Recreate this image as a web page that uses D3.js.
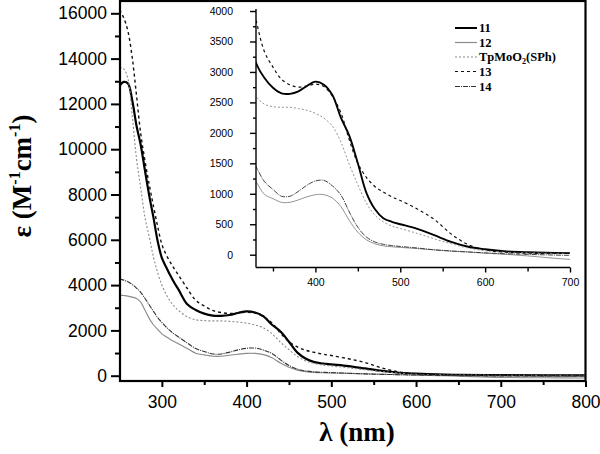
<!DOCTYPE html>
<html><head><meta charset="utf-8">
<script src="https://cdn.jsdelivr.net/npm/d3@7"></script>
<style>body{margin:0;background:#fff}svg{display:block}</style>
</head><body>
<svg id="chart" width="600" height="454"></svg>
<script>
// Wavelength grid (nm)
const wl = [250,255,260,265,270,275,280,285,290,295,300,305,310,315,320,330,340,350,360,370,380,390,400,410,420,430,440,450,460,470,480,490,500,520,540,560,580,600,625,650,700,750,800];
// Series values (M^-1 cm^-1)
const s11 = [12800,12970,12900,12160,11050,10200,9070,7970,7000,5950,5200,4800,4420,4080,3780,3150,2900,2740,2650,2640,2680,2770,2840,2790,2620,2250,1950,1500,1020,750,600,540,500,425,320,210,130,90,55,40,25,15,10];
const s12 = [3560,3540,3515,3470,3410,3250,2900,2530,2250,2050,1850,1720,1600,1500,1400,1200,990,920,860,860,900,950,985,985,930,790,560,370,245,180,145,130,120,100,80,60,45,25,5,-20,-76,-90,-100];
const sTp = [13600,13550,13100,11500,9600,8300,7000,6150,5250,4550,4000,3600,3280,3050,2870,2600,2470,2430,2420,2420,2400,2370,2320,2240,2110,1850,1480,1150,850,650,540,470,430,350,260,180,110,65,40,30,20,10,5];
const s13 = [16150,15800,15200,14050,12400,10700,9500,8450,7500,6600,5800,5350,5000,4700,4420,3850,3330,3080,2880,2790,2750,2770,2800,2760,2600,2330,1880,1500,1270,1120,1030,950,890,750,580,340,165,80,40,25,20,15,10];
const s14 = [4270,4220,4150,4030,3870,3680,3420,3130,2850,2570,2350,2150,1980,1830,1700,1445,1200,1070,960,960,1040,1140,1210,1220,1130,980,700,450,290,210,170,150,135,110,80,60,45,30,15,5,-10,-10,-5];
const seriesNames = ["11","12","TpMoO2(SPh)","13","14"];
const mainXTicks = [300,400,500,600,700,800];
const mainYTicks = [0,2000,4000,6000,8000,10000,12000,14000,16000];
const insetXTicks = [400,500,600,700];
const insetYTicks = [0,500,1000,1500,2000,2500,3000,3500,4000];

const styles = [
  {stroke:"#000", w:2.2, dash:null},
  {stroke:"#8a8a8a", w:1.1, dash:null},
  {stroke:"#8a8a8a", w:1.1, dash:"2,2"},
  {stroke:"#111", w:1.4, dash:"3,3"},
  {stroke:"#333", w:1.1, dash:"5,1,1,1"}
];
const series = [s11,s12,sTp,s13,s14].map((v,i)=>({name:seriesNames[i], pts: wl.map((x,j)=>[x,v[j]]), st:styles[i]}));

const svg = d3.select("#chart");

// ---------- main plot ----------
const L=120, R=585.5, T=1, B=381;
const x = d3.scaleLinear().domain([250,800]).range([119.5,585.5]);
const y = d3.scaleLinear().domain([0,16000]).range([375.7,375.7-8*45.3]);

svg.append("clipPath").attr("id","cm").append("rect").attr("x",L).attr("y",T).attr("width",R-L).attr("height",B-T);
const gm = svg.append("g").attr("clip-path","url(#cm)");
const lineM = d3.line().x(d=>x(d[0])).y(d=>y(d[1])).curve(d3.curveCatmullRom.alpha(0.5));
series.forEach(s=>{
  gm.append("path").attr("d",lineM(s.pts)).attr("fill","none")
    .attr("stroke",s.st.stroke).attr("stroke-width",s.st.w)
    .attr("stroke-dasharray",s.st.dash).attr("stroke-linejoin","round");
});

// frame
svg.append("rect").attr("x",L).attr("y",T).attr("width",R-L).attr("height",B-T)
  .attr("fill","none").attr("stroke","#000").attr("stroke-width",2.2);

// main y axis ticks
const gy = svg.append("g").attr("transform",`translate(${L},0)`);
gy.call(d3.axisLeft(y).tickValues(mainYTicks).tickSize(9).tickPadding(4).tickFormat(d3.format("d")));
gy.append("g").call(d3.axisLeft(y).tickValues(d3.range(1000,17000,2000)).tickSize(5).tickFormat(""));
gy.selectAll(".domain").remove();
gy.selectAll("line").attr("stroke","#000").attr("stroke-width",2);
gy.selectAll("text").attr("font-family","Liberation Sans, Arial, sans-serif").attr("font-size",17.5).attr("fill","#000");

// main x axis ticks
const gx = svg.append("g").attr("transform",`translate(0,${B})`);
gx.call(d3.axisBottom(x).tickValues(mainXTicks).tickSize(6).tickPadding(9).tickFormat(d3.format("d")));
gx.append("g").call(d3.axisBottom(x).tickValues([350,450,550,650,750]).tickSize(4).tickFormat(""));
gx.selectAll(".domain").remove();
gx.selectAll("line").attr("stroke","#000").attr("stroke-width",2);
gx.selectAll("text").attr("font-family","Liberation Sans, Arial, sans-serif").attr("font-size",17.5).attr("fill","#000");

// axis titles
svg.append("text").attr("x",357).attr("y",441).attr("text-anchor","middle")
  .attr("font-family","Liberation Serif, Times New Roman, serif").attr("font-weight","bold").attr("font-size",27)
  .text("λ (nm)");
const yt = svg.append("text").attr("transform","translate(31,176) rotate(-90)").attr("text-anchor","middle")
  .attr("font-family","Liberation Serif, Times New Roman, serif").attr("font-weight","bold").attr("font-size",27);
yt.append("tspan").text("ε (M");
yt.append("tspan").attr("font-size",16).attr("dy",-11).text("-1");
yt.append("tspan").attr("dy",11).text("cm");
yt.append("tspan").attr("font-size",16).attr("dy",-11).text("-1");
yt.append("tspan").attr("dy",11).text(")");

// ---------- inset ----------
const ix = d3.scaleLinear().domain([330,700]).range([256,570]);
const iy = d3.scaleLinear().domain([0,4000]).range([254.7,254.7-8*30.46]);
const iB = 267.5, iL = 256;
svg.append("clipPath").attr("id","ci").append("rect").attr("x",iL).attr("y",0).attr("width",570-iL).attr("height",iB);
const gi = svg.append("g").attr("clip-path","url(#ci)");
const lineI = d3.line().x(d=>ix(d[0])).y(d=>iy(d[1])).curve(d3.curveCatmullRom.alpha(0.5));
series.forEach(s=>{
  gi.append("path").attr("d",lineI(s.pts.filter(p=>p[0]>=320&&p[0]<=750))).attr("fill","none")
    .attr("stroke",s.st.stroke).attr("stroke-width",s.st.w*0.85)
    .attr("stroke-dasharray",s.st.dash).attr("stroke-linejoin","round");
});
const giy = svg.append("g").attr("transform",`translate(${iL},0)`);
giy.call(d3.axisLeft(iy).tickValues(insetYTicks).tickSize(6).tickPadding(17).tickFormat(d3.format("d")));
giy.append("g").call(d3.axisLeft(iy).tickValues(d3.range(250,4000,500)).tickSize(3).tickFormat(""));
giy.selectAll(".domain").remove();
giy.append("line").attr("x1",0).attr("x2",0).attr("y1",9).attr("y2",iB).attr("stroke","#000").attr("stroke-width",1.6);
giy.selectAll("line").attr("stroke","#000").attr("stroke-width",1.4);
giy.selectAll("text").attr("font-family","Liberation Sans, Arial, sans-serif").attr("font-size",10.5).attr("fill","#000");

const gix = svg.append("g").attr("transform",`translate(0,${iB})`);
gix.call(d3.axisBottom(ix).tickValues(insetXTicks).tickSize(5).tickPadding(6).tickFormat(d3.format("d")));
gix.append("g").call(d3.axisBottom(ix).tickValues([350,450,550,650]).tickSize(4).tickFormat(""));
gix.selectAll(".domain").remove();
gix.append("line").attr("x1",iL).attr("x2",570).attr("y1",0).attr("y2",0).attr("stroke","#000").attr("stroke-width",1.6);
gix.selectAll("line").attr("stroke","#000").attr("stroke-width",1.4);
gix.selectAll("text").attr("font-family","Liberation Sans, Arial, sans-serif").attr("font-size",10.5).attr("fill","#000");

// legend
const legY = [28,42.5,57,71.5,86.5];
const lg = svg.append("g");
series.forEach((s,i)=>{
  lg.append("line").attr("x1",455).attr("x2",477).attr("y1",legY[i]).attr("y2",legY[i])
    .attr("stroke",s.st.stroke).attr("stroke-width",i===0?2:1.2).attr("stroke-dasharray",s.st.dash);
  const t = lg.append("text").attr("x",479).attr("y",legY[i]+4)
    .attr("font-family","Liberation Serif, Times New Roman, serif").attr("font-weight","bold").attr("font-size",12.5);
  if(s.name==="TpMoO2(SPh)"){
    t.append("tspan").text("TpMoO");
    t.append("tspan").attr("font-size",8).attr("dy",3).text("2");
    t.append("tspan").attr("dy",-3).text("(SPh)");
  } else t.text(s.name);
});
</script>
</body></html>
